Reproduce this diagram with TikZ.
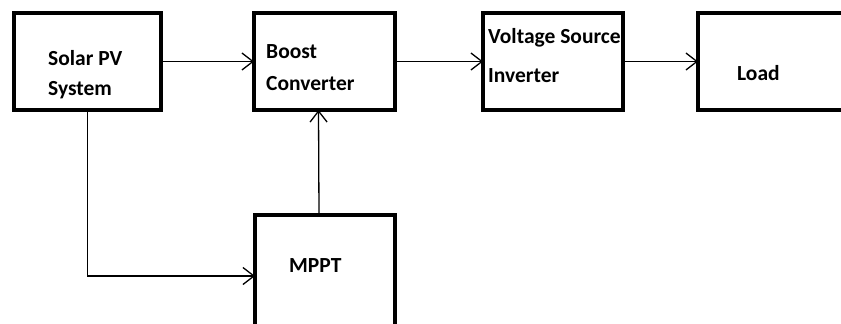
\documentclass[tikz,border=0pt]{standalone}
\usepackage{fontspec}
\setmainfont{Carlito}
\usetikzlibrary{arrows.meta}
\begin{document}
\begin{tikzpicture}[x=1pt,y=-1pt,
  blk/.style={draw=black,line width=4pt,minimum width=#1,inner sep=0pt,outer sep=0pt,fill=white},
  lbl/.style={anchor=base west,inner sep=0pt,font=\fontsize{21.5}{24}\selectfont\bfseries},
  conn/.style={draw=black,line width=1.3pt,-{Straight Barb[length=11pt,width=17pt,line width=1.3pt]}}]
\useasboundingbox (0,0) rectangle (841,324);
\clip (0,0) rectangle (841,324);
\fill[white] (0,0) rectangle (841,324);
\node[blk=147pt,minimum height=97pt] (solar) at (87.5,61.5) {};
\node[blk=141pt,minimum height=97pt] (boost) at (324.5,61.5) {};
\node[blk=140pt,minimum height=97pt] (vsi) at (553,61.5) {};
\node[blk=220pt,minimum height=97pt] (load) at (808,61.5) {};
\node[blk=140pt,minimum height=123pt] (mppt) at (325,276) {};
\node[lbl] (t1) at (48,65) {Solar PV};
\node[lbl] (t2) at (48,95) {System};
\node[lbl] (t3) at (266,58) {Boost};
\node[lbl] (t4) at (266,90) {Converter};
\node[lbl] (t5) at (488,43) {Voltage Source};
\node[lbl] (t6) at (488,82) {Inverter};
\node[lbl] (t7) at (737,80) {Load};
\node[lbl] (t8) at (289,272) {MPPT};
\draw[conn] (solar.east) -- (boost.west);
\draw[conn] (boost.east) -- (vsi.west);
\draw[conn] (vsi.east) -- (load.west);
\draw[conn] (solar.south) |- (mppt.west);
\draw[conn] ([xshift=-6pt]mppt.north) -- ([xshift=-6pt]boost.south);
\end{tikzpicture}
\end{document}
